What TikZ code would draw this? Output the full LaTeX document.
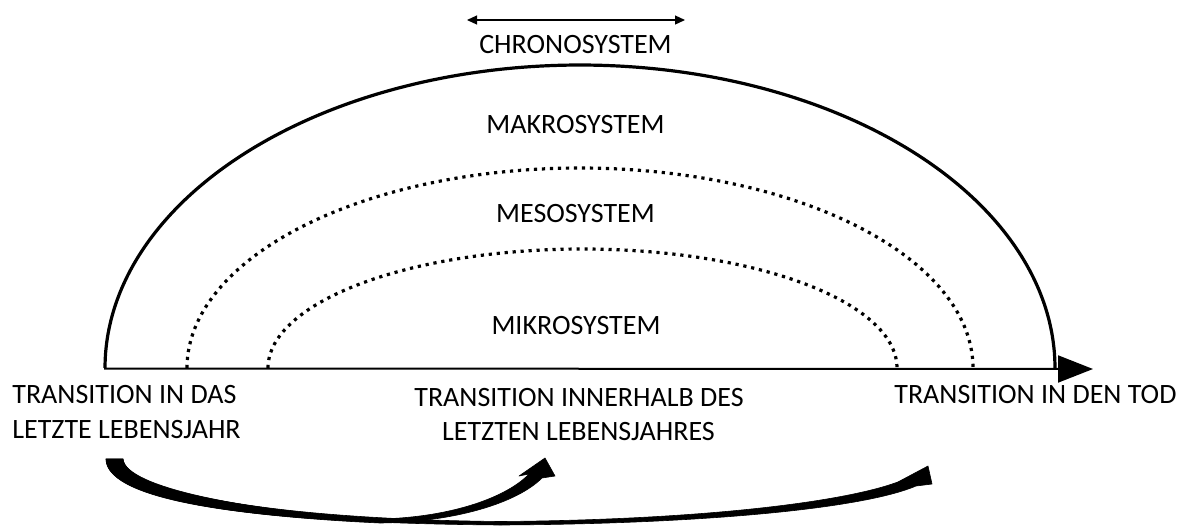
\documentclass[tikz,border=0pt]{standalone}
\usepackage{fontspec}
\setmainfont{Carlito}
\usetikzlibrary{arrows.meta}
\begin{document}
\begin{tikzpicture}[x=0.5pt,y=-0.5pt,
  lbl/.style={font=\fontsize{14}{16}\selectfont, inner sep=0pt, anchor=base},
  lblw/.style={lbl, anchor=base west},
  solidarc/.style={line width=1.6pt},
  dotarc/.style={line width=1.6pt, dash pattern=on 1.6pt off 2.4pt},
  blockarrow/.style={fill=black, draw=black, line width=0.3pt, line join=round}]
\useasboundingbox (0,0) rectangle (1184,526);

% chronosystem
\coordinate (chL) at (467,20);
\coordinate (chR) at (685,20);
\draw[line width=0.6pt, {Triangle[length=5pt,width=4.5pt]}-{Triangle[length=5pt,width=4.5pt]}] (chL) -- (chR);
\node[lbl] (chrono) at (575.5,53) {CHRONOSYSTEM};

% arcs
\draw[solidarc] plot[domain=180:360, samples=240] ({580+475*cos(\x)},{368+303*sin(\x)});
\draw[dotarc] plot[domain=180:360, samples=240] ({580+393*cos(\x)},{368+200*sin(\x)});
\draw[dotarc] plot[domain=180:360, samples=240] ({582.5+314.5*cos(\x)},{368+119*sin(\x)});

% base line with arrow
\coordinate (bL) at (104,368.5);
\coordinate (bR) at (1093,369);
\draw[line width=1pt, -{Triangle[length=17.5pt,width=13.5pt]}] (bL) -- (bR);

% system labels
\node[lbl] (makro) at (575.5,133) {MAKROSYSTEM};
\node[lbl] (meso) at (575.5,222) {MESOSYSTEM};
\node[lbl] (mikro) at (576,334) {MIKROSYSTEM};

% transition labels
\node[lblw] (t1a) at (12,403) {TRANSITION IN DAS};
\node[lblw] (t1b) at (12,438) {LETZTE LEBENSJAHR};
\node[lbl] (t2a) at (579,406) {TRANSITION INNERHALB DES};
\node[lbl] (t2b) at (578.5,440) {LETZTEN LEBENSJAHRES};
\node[lblw] (t3) at (894,403) {TRANSITION IN DEN TOD};

% curved block arrows
\coordinate (s0) at (106,459);
\coordinate (s1) at (123,459);
% arrow 1
\fill[blockarrow] (s0) .. controls (106,497) and (230,516) .. (380,523)
  .. controls (455,522) and (517,503) .. (542,478)
  -- (555,476) -- (545,458) -- (519,476) -- (529,474)
  .. controls (508,496) and (455,517) .. (380,519)
  .. controls (245,511) and (125,487) .. (s1) -- cycle;
% arrow 2
\fill[blockarrow] (s0) .. controls (107,503) and (260,523) .. (500,525)
  .. controls (700,524) and (862,509) .. (916,486)
  -- (932,484) -- (928,466) -- (896,483) -- (903,480)
  .. controls (850,502) and (700,520) .. (500,521.5)
  .. controls (260,519) and (125,490) .. (s1) -- cycle;
\end{tikzpicture}
\end{document}
